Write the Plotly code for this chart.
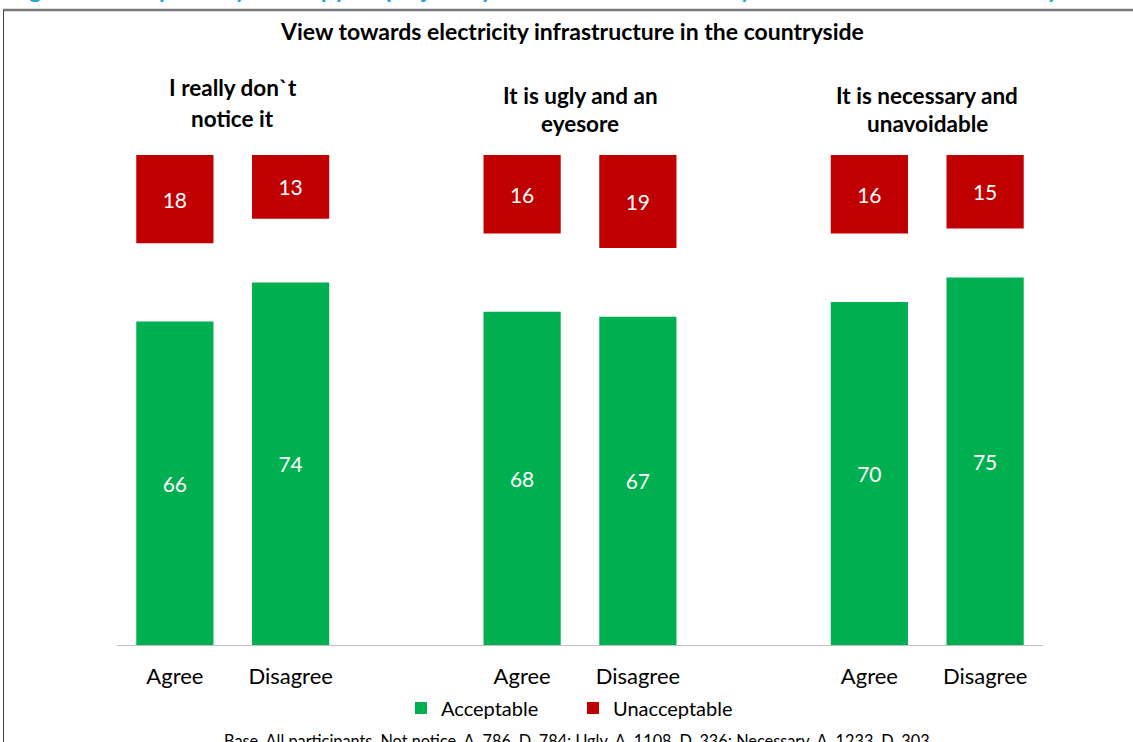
import plotly.graph_objects as go

# ---- data ----
groups = ["I really don`t<br>notice it", "It is ugly and an<br>eyesore", "It is necessary and<br>unavoidable"]
categories = ["Agree", "Disagree", "Agree", "Disagree", "Agree", "Disagree"]
positions = [0, 1, 3, 4, 6, 7]
acceptable = [66, 74, 68, 67, 70, 75]
unacceptable = [18, 13, 16, 19, 16, 15]

GREEN = "#00B050"
RED = "#C00000"
FONT = "Lato, Carlito, Calibri, sans-serif"

W, H = 1133, 742
L, R, T, B = 117, 90, 155, 97
PW, PH = W - L - R, H - T - B


def px_x(p):
    return (p - L) / PW


def px_y(p):
    return 1 - (p - T) / PH


fig = go.Figure()
fig.add_trace(go.Bar(
    x=positions, y=acceptable, name="Acceptable",
    marker=dict(color=GREEN, line=dict(width=0)),
    text=acceptable, textposition="inside", insidetextanchor="middle",
    textfont=dict(color="white", size=21, family=FONT),
    width=0.667,
))
fig.add_trace(go.Bar(
    x=positions, y=unacceptable, base=[100 - u for u in unacceptable],
    name="Unacceptable",
    marker=dict(color=RED, line=dict(width=0)),
    text=unacceptable, textposition="inside", insidetextanchor="middle",
    textfont=dict(color="white", size=21, family=FONT),
    width=0.667,
))

annotations = []
group_centers = [0.5, 3.5, 6.5]
group_line_y = [(88, 118), (95, 124), (95, 124)]
for g, cx, ys in zip(groups, group_centers, group_line_y):
    for line, ly in zip(g.split("<br>"), ys):
        annotations.append(dict(
            x=cx, xref="x", y=px_y(ly), yref="paper", text="<b>" + line + "</b>",
            showarrow=False, font=dict(size=22.5, color="black", family=FONT),
            xanchor="center", yanchor="middle", align="center",
        ))

annotations.append(dict(
    x=px_x(572), xref="paper", y=px_y(31), yref="paper",
    text="<b>View towards electricity infrastructure in the countryside</b>",
    showarrow=False, font=dict(size=23, color="black", family=FONT),
    xanchor="center", yanchor="middle",
))
annotations.append(dict(
    x=px_x(577), xref="paper", y=px_y(729), yref="paper",
    text="Base. All participants. Not notice. A. 786, D. 784; Ugly. A. 1108, D. 336; Necessary. A. 1233, D. 303",
    showarrow=False, font=dict(size=16.3, color="black", family=FONT),
    xanchor="center", yanchor="top",
))
annotations.append(dict(
    x=px_x(555), xref="paper", y=px_y(5), yref="paper",
    text="<b>Figure 5: Acceptability of the pylon project by view towards electricity infrastructure in the countryside</b>",
    showarrow=False, font=dict(size=24, color="#1DA8DA", family=FONT),
    xanchor="center", yanchor="bottom",
))

shapes = [
    dict(type="line", xref="paper", yref="paper",
         x0=px_x(3), x1=px_x(1140), y0=px_y(10), y1=px_y(10),
         line=dict(color="#7a7a7a", width=2.5)),
    dict(type="line", xref="paper", yref="paper",
         x0=px_x(3.5), x1=px_x(3.5), y0=px_y(10), y1=px_y(760),
         line=dict(color="#444444", width=1)),
]

fig.update_layout(
    width=W, height=H,
    margin=dict(l=L, r=R, t=T, b=B, autoexpand=False),
    barmode="overlay",
    plot_bgcolor="white", paper_bgcolor="white",
    font=dict(family=FONT, color="black"),
    showlegend=True,
    legend=dict(orientation="h", x=px_x(401), xanchor="left",
                y=px_y(708), yanchor="middle",
                font=dict(size=20, family=FONT), itemwidth=30,
                entrywidth=127, entrywidthmode="pixels",
                traceorder="normal"),
    annotations=annotations,
    shapes=shapes,
)
fig.update_xaxes(
    range=[-0.5, 7.5], tickmode="array", tickvals=positions, ticktext=categories,
    showline=True, linecolor="#BFBFBF", linewidth=1, showgrid=False,
    zeroline=False, ticks="", tickfont=dict(size=22, family=FONT),
    ticklabelstandoff=12, fixedrange=True,
)
fig.update_yaxes(range=[0, 100], visible=False, fixedrange=True)

fig.write_html(
    "out.html",
    config={"displayModeBar": False},
    post_script="document.body.style.margin='0';document.body.style.overflow='hidden';",
)
